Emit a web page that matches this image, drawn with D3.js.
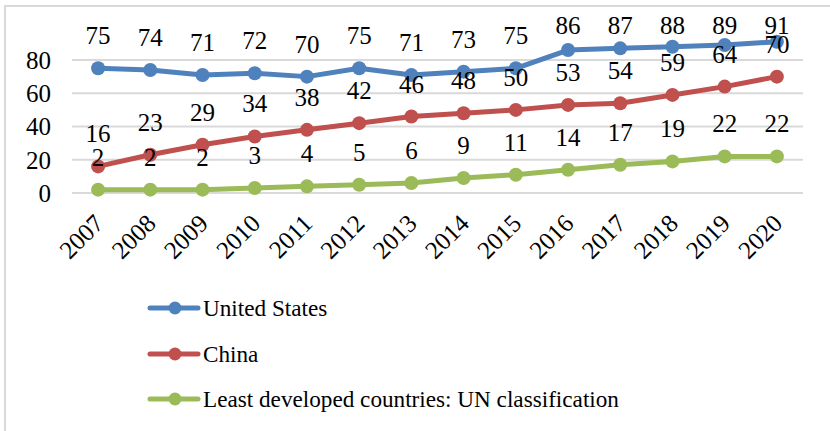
<!DOCTYPE html>
<html><head><meta charset="utf-8">
<script src="https://cdn.jsdelivr.net/npm/d3@7"></script>
</head><body>
<script>
const years = ["2007","2008","2009","2010","2011","2012","2013","2014","2015","2016","2017","2018","2019","2020"];
const unitedStates = [75,74,71,72,70,75,71,73,75,86,87,88,89,91];
const china = [16,23,29,34,38,42,46,48,50,53,54,59,64,70];
const ldc = [2,2,2,3,4,5,6,9,11,14,17,19,22,22];
const seriesNames = ["United States","China","Least developed countries: UN classification"];
const yTicks = [0,20,40,60,80];

const colors = ["#4f81bd","#c0504d","#9bbb59"];
const seriesData = [unitedStates, china, ldc];
const W = 830, H = 431;
const FF = '"Liberation Serif"';

d3.select("body").style("margin","0px");
const svg = d3.select("body").append("svg").attr("width",W).attr("height",H)
  .style("display","block").attr("font-family","Liberation Serif");
svg.append("rect").attr("x",0).attr("y",0).attr("width",W).attr("height",H).attr("fill","#fff");
svg.append("rect").attr("x",5).attr("y",6).attr("width",W+20).attr("height",H+20)
  .attr("fill","none").attr("stroke","#d9d9d9").attr("stroke-width",2);

const x = d3.scaleBand().domain(years).range([72,803]);
const y = d3.scaleLinear().domain([0,100]).range([193,26.75]);

svg.append("g").selectAll("line").data(yTicks).join("line")
  .attr("x1",72).attr("x2",803).attr("y1",d=>y(d)).attr("y2",d=>y(d))
  .attr("stroke","#d9d9d9").attr("stroke-width",2);

const yAxis = d3.axisLeft(y).tickValues(yTicks).tickSize(0).tickPadding(0);
const gy = svg.append("g").attr("transform","translate(51,0)").call(yAxis);
gy.select(".domain").remove();
gy.attr("font-family","Liberation Serif").attr("font-size",25);
gy.selectAll("text").style("font-family",FF).style("font-size","25px").attr("fill","#000").attr("dy","0.33em");

const xAxis = d3.axisBottom(x).tickSize(0).tickPadding(0);
const gx = svg.append("g").attr("transform","translate(0,193)").call(xAxis);
gx.select(".domain").remove();
gx.attr("font-family","Liberation Serif").attr("font-size",25);
gx.selectAll("text").style("font-family",FF).style("font-size","25px").attr("fill","#000")
  .attr("text-anchor","end").attr("dy",0).attr("y",0)
  .attr("transform","translate(7,32) rotate(-45)");

const cx = d => x(d) + x.bandwidth()/2;
const line = d3.line().x((d,i)=>cx(years[i])).y(d=>y(d));

seriesData.forEach((data,si)=>{
  const g = svg.append("g");
  g.append("path").datum(data).attr("d",line).attr("fill","none")
    .attr("stroke",colors[si]).attr("stroke-width",5).attr("stroke-linejoin","round");
  g.selectAll("circle").data(data).join("circle")
    .attr("cx",(d,i)=>cx(years[i])).attr("cy",d=>y(d)).attr("r",7).attr("fill",colors[si]);
});
seriesData.forEach((data,si)=>{
  data.forEach((d,i)=>{
    svg.append("text")
      .attr("x",cx(years[i])).attr("y",Math.max(y(d)-24,34))
      .attr("text-anchor","middle").style("font-family",FF).style("font-size","25px").attr("fill","#000")
      .text(d);
  });
});

const legendY = [308,354,399];
seriesNames.forEach((name,i)=>{
  svg.append("line").attr("x1",150).attr("x2",198).attr("y1",legendY[i]).attr("y2",legendY[i])
    .attr("stroke",colors[i]).attr("stroke-width",5).attr("stroke-linecap","round");
  svg.append("circle").attr("cx",175).attr("cy",legendY[i]).attr("r",6.5).attr("fill",colors[i]);
  svg.append("text").attr("x",203).attr("y",legendY[i]+8)
    .style("font-family",FF).style("font-size","23.2px").attr("fill","#000").text(name);
});
</script>
</body></html>
